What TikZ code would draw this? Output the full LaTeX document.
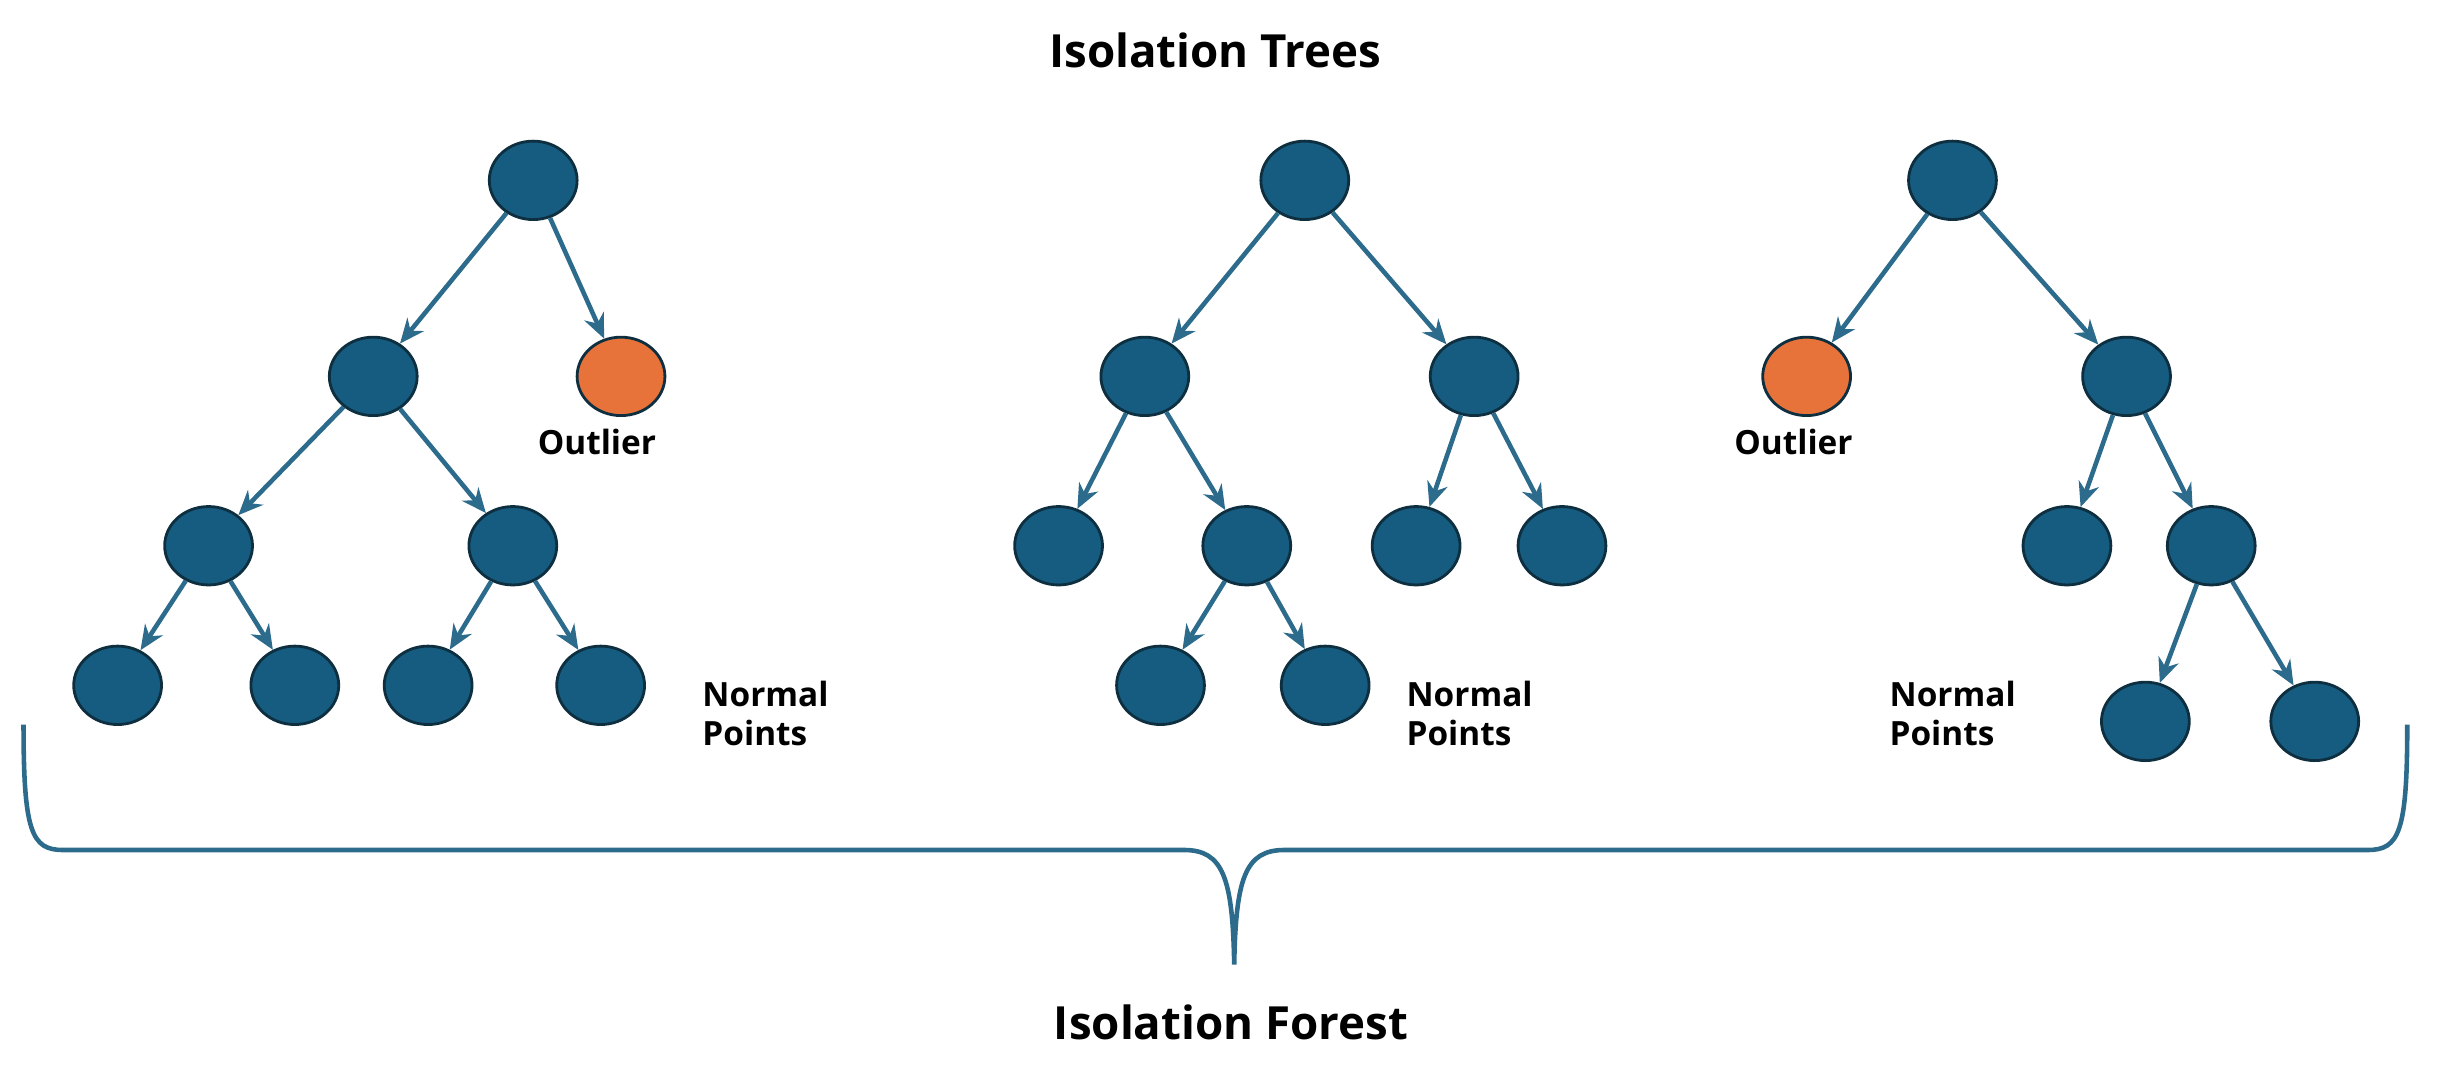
\documentclass[tikz,border=0pt]{standalone}
\usepackage{fontspec}
\setmainfont{Open Sans}
\usetikzlibrary{shapes.geometric,arrows.meta}
\definecolor{nb}{HTML}{165C80}
\definecolor{ne}{HTML}{0E2F40}
\definecolor{ar}{HTML}{2C6B8C}
\definecolor{og}{HTML}{E8733A}
\begin{document}
\begin{tikzpicture}[x=0.01568cm,y=-0.01568cm,
 n/.style={ellipse,draw=ne,line width=0.8pt,fill=nb,minimum width=56*0.01568cm,minimum height=50*0.01568cm,inner sep=0pt},
 o/.style={n,fill=og},
 e/.style={draw=ar,line width=1.3pt,-{Stealth[length=7pt,width=6pt]}},
 lb/.style={font=\bfseries\fontsize{9.5}{11}\selectfont,align=left,anchor=west},
 tt/.style={font=\bfseries\fontsize{13}{15}\selectfont}]
\useasboundingbox (0,0) rectangle (1568,682);
\node[tt] (t1) at (775,32) {Isolation Trees};
\node[tt] (t2) at (785,652) {Isolation Forest};
% tree 1
\node[n] (a) at (340,115) {};
\node[n] (a1) at (238,240) {};
\node[o] (a2) at (396,240) {};
\node[n] (a11) at (133,348) {};
\node[n] (a12) at (327,348) {};
\node[n] (a111) at (75,437) {};
\node[n] (a112) at (188,437) {};
\node[n] (a121) at (273,437) {};
\node[n] (a122) at (383,437) {};
\foreach \p/\c in {a/a1,a/a2,a1/a11,a1/a12,a11/a111,a11/a112,a12/a121,a12/a122}\draw[e](\p)--(\c);
\node[lb] (lo1) at (335,282) {Outlier};
\node[lb] (ln1) at (440,455) {Normal\\Points};
% tree 2
\node[n] (b) at (832,115) {};
\node[n] (b1) at (730,240) {};
\node[n] (b2) at (940,240) {};
\node[n] (b11) at (675,348) {};
\node[n] (b12) at (795,348) {};
\node[n] (b21) at (903,348) {};
\node[n] (b22) at (996,348) {};
\node[n] (b121) at (740,437) {};
\node[n] (b122) at (845,437) {};
\foreach \p/\c in {b/b1,b/b2,b1/b11,b1/b12,b2/b21,b2/b22,b12/b121,b12/b122}\draw[e](\p)--(\c);
\node[lb] (ln2) at (889,455) {Normal\\Points};
% tree 3
\node[n] (c) at (1245,115) {};
\node[o] (c1) at (1152,240) {};
\node[n] (c2) at (1356,240) {};
\node[n] (c21) at (1318,348) {};
\node[n] (c22) at (1410,348) {};
\node[n] (c221) at (1368,460) {};
\node[n] (c222) at (1476,460) {};
\foreach \p/\c in {c/c1,c/c2,c2/c21,c2/c22,c22/c221,c22/c222}\draw[e](\p)--(\c);
\node[lb] (lo3) at (1098,282) {Outlier};
\node[lb] (ln3) at (1197,455) {Normal\\Points};
% brace
\draw[ar,line width=1.3pt] (15,462) .. controls (15,530) and (20,542) .. (40,542) -- (755,542) .. controls (780,542) and (786,560) .. (787,615) .. controls (788,560) and (794,542) .. (819,542) -- (1510,542) .. controls (1530,542) and (1535,530) .. (1535,462);
\end{tikzpicture}
\end{document}
